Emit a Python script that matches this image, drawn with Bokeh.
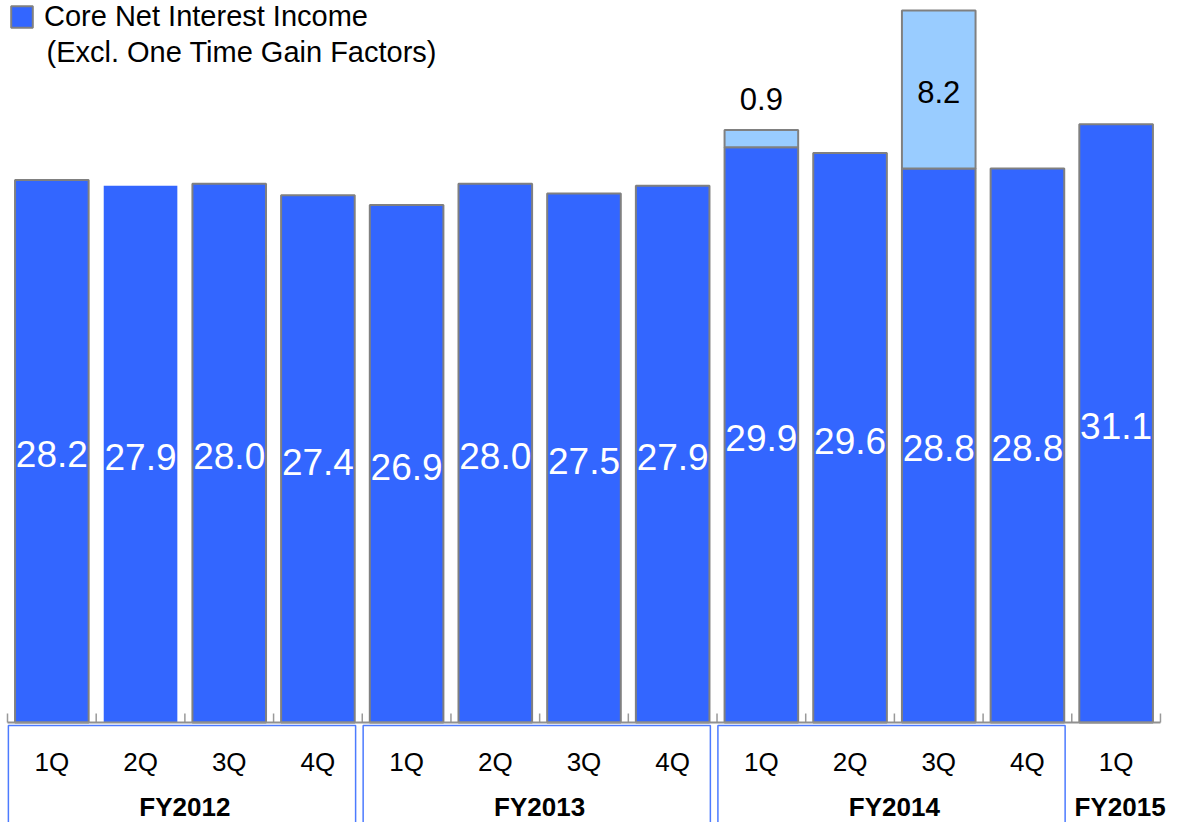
import numpy as np
from bokeh.plotting import figure
from bokeh.models import ColumnDataSource, Range1d, Legend, LegendItem, Label
from bokeh.core.properties import value
from bokeh.embed import file_html
from bokeh.resources import INLINE

# ---------------- data ----------------
fiscal_years = ["FY2012"] * 4 + ["FY2013"] * 4 + ["FY2014"] * 4 + ["FY2015"]
quarters = ["1Q", "2Q", "3Q", "4Q"] * 3 + ["1Q"]
core_nii = [28.2, 27.9, 28.0, 27.4, 26.9, 28.0, 27.5, 27.9, 29.9, 29.6, 28.8, 28.8, 31.1]
one_time_gain = [0, 0, 0, 0, 0, 0, 0, 0, 0.9, 0, 8.2, 0, 0]
legend_label = "Core Net Interest Income"
legend_sub = "(Excl. One Time Gain Factors)"

# ---------------- layout / style ----------------
W, H = 1169, 822
PX_X = 88.69          # pixels per category
PX_Y = 19.24          # pixels per unit
X0 = -0.5 - 7 / PX_X  # first category boundary 7px from left
BASE_PX = 722         # baseline position from top of figure
FONT = "Liberation Sans"
CORE = "#3366FF"
GAIN = "#99CCFF"
EDGE = "#808080"
BOX = "#4D7BFF"
BAR_W = 0.83

n = len(core_nii)
xs = np.arange(n)

p = figure(width=W, height=H,
           x_range=Range1d(X0, X0 + W / PX_X),
           y_range=Range1d(-(H - BASE_PX) / PX_Y, BASE_PX / PX_Y),
           output_backend="svg", toolbar_location=None, min_border=0,
           x_axis_location=None, y_axis_location=None)
p.grid.visible = False
p.outline_line_color = None
p.background_fill_color = "white"

# ticks at category boundaries
bounds = np.arange(n + 1) - 0.5
p.segment(x0=bounds, x1=bounds, y0=0, y1=9 / PX_Y, line_color="#999999", line_width=1.5)

# core bars
line_alpha = [0.0 if i == 1 else 1.0 for i in range(n)]
core_src = ColumnDataSource(dict(
    x=xs, top=core_nii, la=line_alpha,
    mid=[v / 2 for v in core_nii],
    label=[f"{v:.1f}" for v in core_nii],
))
bars = p.vbar(x="x", top="top", bottom=0, width=BAR_W, fill_color=CORE,
              line_color=EDGE, line_alpha="la", line_width=2, source=core_src)

# one-time gain segments
gi = [i for i, v in enumerate(one_time_gain) if v > 0]
gain_src = ColumnDataSource(dict(
    x=[xs[i] for i in gi],
    bottom=[core_nii[i] for i in gi],
    top=[core_nii[i] + one_time_gain[i] for i in gi],
))
p.vbar(x="x", bottom="bottom", top="top", width=BAR_W, fill_color=GAIN,
       line_color=EDGE, line_width=2, source=gain_src)

# baseline
p.segment(x0=[bounds[0]], x1=[bounds[-1]], y0=[0], y1=[0], line_color="#909090", line_width=2)

# white value labels in core bars
p.text(x="x", y="mid", text="label", source=core_src, text_color="white",
       text_font=value(FONT), text_font_size="37px", text_align="center",
       text_baseline="middle", y_offset=3)

# one-time gain labels
inside = [i for i in gi if one_time_gain[i] >= 2]
above = [i for i in gi if one_time_gain[i] < 2]
p.text(x=[xs[i] for i in inside],
       y=[core_nii[i] + one_time_gain[i] / 2 for i in inside],
       text=[f"{one_time_gain[i]:.1f}" for i in inside],
       text_color="black", text_font=value(FONT), text_font_size="31px",
       text_align="center", text_baseline="middle", y_offset=2)
p.text(x=[xs[i] for i in above],
       y=[core_nii[i] + one_time_gain[i] for i in above],
       text=[f"{one_time_gain[i]:.1f}" for i in above],
       text_color="black", text_font=value(FONT), text_font_size="31px",
       text_align="center", text_baseline="middle", y_offset=-31)

# quarter labels
p.text(x=xs, y=np.zeros(n), text=quarters, text_color="black",
       text_font=value(FONT), text_font_size="26px", text_align="center",
       text_baseline="middle", y_offset=39)

# group boxes and labels
groups = []
for i, fy in enumerate(fiscal_years):
    if not groups or groups[-1][0] != fy:
        groups.append([fy, []])
    groups[-1][1].append(i)

full = [g for g in groups if len(g[1]) == 4]
p.quad(left=[g[1][0] - 0.5 + 0.01 for g in full],
       right=[g[1][-1] + 0.5 - 0.075 for g in full],
       top=[-3 / PX_Y] * len(full),
       bottom=[-(H - BASE_PX) / PX_Y - 2] * len(full),
       fill_alpha=0, line_color=BOX, line_width=1.5)

p.text(x=[float(np.mean(g[1])) for g in groups], y=[0] * len(groups),
       text=[g[0] for g in groups], text_color="black",
       text_font=value(FONT), text_font_size="26px", text_font_style="bold",
       text_align="center", text_baseline="middle", y_offset=84,
       x_offset=[0 if len(g[1]) == 4 else 4 for g in groups])

# legend
legend = Legend(items=[LegendItem(label=legend_label, renderers=[bars], index=0)],
                location=(8, H - 33), margin=0, padding=0, spacing=0,
                glyph_width=27, glyph_height=27, label_standoff=9,
                label_text_font=FONT, label_text_font_size="29px",
                label_text_color="black",
                border_line_alpha=0, background_fill_alpha=0)
p.add_layout(legend)
p.add_layout(Label(x=46, y=H - 51, x_units="screen", y_units="screen",
                   text=legend_sub, text_font=FONT, text_font_size="29px",
                   text_baseline="middle", text_color="black"))

open("out.html", "w").write(file_html(p, INLINE))
